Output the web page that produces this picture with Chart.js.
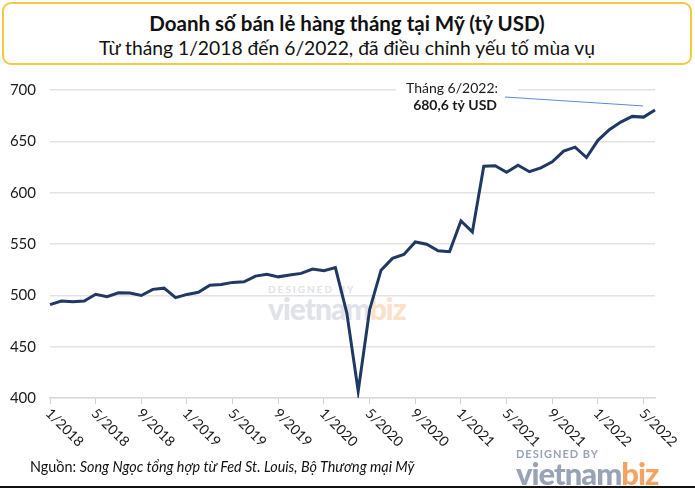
<!DOCTYPE html>
<html>
<head>
<meta charset="utf-8">
<script src="https://cdn.jsdelivr.net/npm/chart.js@4"></script>
<style>
  body { margin: 0; background: #fff; font-family: Lato, sans-serif; }
  #wrap { position: relative; width: 695px; height: 489px; overflow: hidden; }
  #titlebox {
    position: absolute; left: 2px; top: 2px; width: 686px; height: 59px;
    border: 2px solid #f5c842; border-radius: 9px; text-align: center; color: #111;
  }
  #titlebox .t1 { font-weight: bold; font-size: 20.5px; margin-top: 7px; }
  #titlebox .t2 { font-size: 19.3px; margin-top: 1px; }
  #wm { position: absolute; left: 268px; top: 283px; color: #d8dbe3; opacity: 0.8; }
  #wm .d { font-size: 10px; font-weight: bold; letter-spacing: 2px; }
  #wm .v { font-size: 30px; font-weight: 900; line-height: 26px; letter-spacing: -1px; }
  #footer { position: absolute; left: 30px; top: 458px; font-size: 14.4px; color: #111; }
  #logo { position: absolute; left: 516px; top: 447px; color: #98a3b6; }
  #logo .d { font-size: 11px; font-weight: bold; letter-spacing: 1px; }
  #logo .v { font-size: 31px; font-weight: 900; line-height: 26px; letter-spacing: -1px; }
  #logo .v span { color: #f4a460; }
  #wm .v span { color: #fbd9bd; }
  #bottomline { position: absolute; left: 0; top: 486px; width: 695px; height: 2px; background: #111; }
  canvas { position: absolute; left: 0; top: 0; }
</style>
</head>
<body>
<div id="wrap">
  <div id="titlebox">
    <div class="t1">Doanh số bán lẻ hàng tháng tại Mỹ (tỷ USD)</div>
    <div class="t2">Từ tháng 1/2018 đến 6/2022, đã điều chỉnh yếu tố mùa vụ</div>
  </div>
  <div id="wm"><div class="d">DESIGNED BY</div><div class="v">vietnam<span>biz</span></div></div>
  <canvas id="chart" width="695" height="489"></canvas>
  <div id="footer">Nguồn: <i>Song Ngọc tổng hợp từ Fed St. Louis, Bộ Thương mại Mỹ</i></div>
  <div id="logo"><div class="d">DESIGNED BY</div><div class="v">vietnam<span>biz</span></div></div>
  <div id="bottomline"></div>
</div>
<script>
// months 1/2018 .. 6/2022
const months = [];
for (let y = 2018; y <= 2022; y++) {
  for (let m = 1; m <= 12; m++) {
    if (y === 2022 && m > 6) break;
    months.push(m + "/" + y);
  }
}

// retail sales, billion USD
const sales = [
  491.0, 494.4, 493.8, 494.5, 501.0, 498.6, 502.4, 502.2, 499.8, 505.8, 507.0, 497.8, // 2018
  500.9, 503.0, 509.9, 510.6, 512.6, 513.2, 518.7, 520.6, 518.0, 519.8, 521.4, 525.6, // 2019
  524.0, 527.0, 483.0, 406.7, 486.0, 524.5, 536.0, 539.8, 552.0, 549.8, 543.4, 542.5, // 2020
  572.5, 561.8, 625.7, 626.3, 619.8, 626.8, 620.4, 624.2, 630.0, 640.5, 644.3, 634.2, // 2021
  651.0, 661.4, 668.8, 674.3, 673.6, 680.6                                             // 2022
];

const yTicks = [400, 450, 500, 550, 600, 650, 700];
const noteLines = ["Tháng 6/2022:", "680,6 tỷ USD"];

// rotated x labels + annotation
const extras = {
  id: "extras",
  afterDraw(chart) {
    const c = chart.ctx;
    const xs = chart.scales.x;
    const ys = chart.scales.y;
    c.save();
    c.fillStyle = "#1a1a1a";
    c.font = "14px Lato";
    c.textAlign = "left";
    c.textBaseline = "middle";
    for (let i = 0; i < months.length; i += 4) {
      const x = xs.getPixelForValue(i);
      c.save();
      c.translate(x - 2, ys.bottom + 13);
      c.rotate(Math.PI / 4);
      c.fillText(months[i], 0, 0);
      c.restore();
    }
    // annotation
    const last = sales.length - 1;
    const px = xs.getPixelForValue(last);
    const py = ys.getPixelForValue(sales[last]);
    c.fillStyle = "#fff";
    c.fillRect(396, 78, 122, 36);
    c.strokeStyle = "#5b8bd6";
    c.lineWidth = 1;
    c.beginPath();
    c.moveTo(505, 97);
    c.lineTo(px - 12, py - 4);
    c.stroke();
    c.fillStyle = "#1a1a1a";
    c.textAlign = "right";
    c.font = "14px Lato";
    c.fillText(noteLines[0], 498, 88);
    c.font = "bold 14px Lato";
    c.fillText(noteLines[1], 497, 105);
    c.restore();
  }
};

new Chart(document.getElementById("chart"), {
  type: "line",
  data: {
    labels: months,
    datasets: [{
      data: sales,
      borderColor: "#1f3864",
      borderWidth: 3,
      pointRadius: 0,
      tension: 0,
      fill: false
    }]
  },
  options: {
    responsive: false,
    animation: false,
    layout: { padding: { left: 0, right: 40, top: 90, bottom: 0 } },
    plugins: { legend: { display: false }, tooltip: { enabled: false } },
    scales: {
      x: {
        ticks: { display: false, autoSkip: false },
        grid: {
          drawOnChartArea: false,
          tickLength: 6,
          tickColor: (ctx) => (ctx.index % 4 === 0 ? "#cfcfcf" : "rgba(0,0,0,0)")
        },
        border: { display: true, color: "#d6d6d6", width: 1.5 },
        afterFit: (s) => { s.height = 91; }
      },
      y: {
        min: 400,
        max: 700,
        afterBuildTicks: (s) => { s.ticks = yTicks.map((v) => ({ value: v })); },
        ticks: { color: "#1a1a1a", font: { family: "Lato", size: 15 }, padding: 14 },
        grid: { color: (ctx) => (ctx.tick.value === 400 ? "rgba(0,0,0,0)" : "#e3e3e3"), lineWidth: 1.5, drawTicks: false },
        border: { display: false },
        afterFit: (s) => { s.width = 50; }
      }
    }
  },
  plugins: [extras]
});
</script>
</body>
</html>
